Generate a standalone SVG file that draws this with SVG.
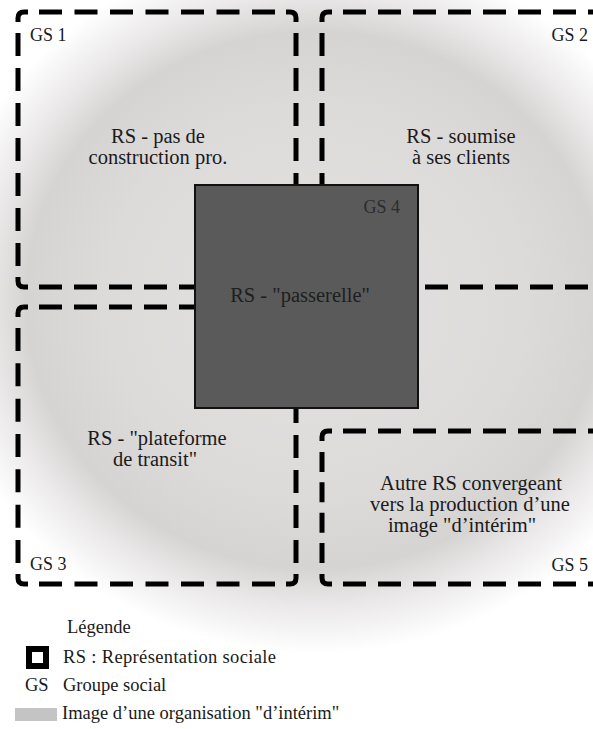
<svg xmlns="http://www.w3.org/2000/svg" width="593" height="729" viewBox="0 0 593 729">
<defs>
<radialGradient id="bg" gradientUnits="userSpaceOnUse" cx="315" cy="300" r="380" gradientTransform="translate(315 300) scale(1 0.93) translate(-315 -300)">
<stop offset="0" stop-color="#e3e1e1"/>
<stop offset="0.55" stop-color="#dddada"/>
<stop offset="0.76" stop-color="#d6d3d3"/>
<stop offset="0.87" stop-color="#ebe9e9"/>
<stop offset="1" stop-color="#ffffff"/>
</radialGradient>
<style>
.d{fill:none;stroke:#000;stroke-width:5;stroke-dasharray:23 12}
.c{fill:none;stroke:#000;stroke-width:5}
.t{font-family:'Liberation Serif','DejaVu Serif','Noto Serif',serif;font-size:20.5px;fill:#1a1a1a;text-anchor:middle}
.g{font-family:'Liberation Serif','DejaVu Serif','Noto Serif',serif;font-size:18px;fill:#1a1a1a}
.l{font-family:'Liberation Serif','DejaVu Serif','Noto Serif',serif;font-size:18.5px;fill:#1a1a1a}
</style>
</defs>
<rect width="593" height="729" fill="#ffffff"/>
<rect width="593" height="729" fill="url(#bg)"/>

<g id="connectors">
<path class="c" d="M18,22 V18 Q18,12 24,12 H28"/>
<path class="d" style="stroke-dasharray:23 12.5" d="M39,12 H275"/>
<path class="c" d="M286,12 H290 Q296,12 296,18 V22"/>
<path class="d" d="M296,33 V185"/>
<path class="d" d="M18,33 V266"/>
<path class="c" d="M18,277 V281 Q18,287 24,287 H28"/>
<path class="d" d="M39,287 H196"/>
<path class="c" d="M322,22 V18 Q322,12 328,12 H332"/>
<path class="d" d="M343,12 H600"/>
<path class="d" d="M322,33 V185"/>
<path class="d" d="M425,287 H600"/>
<path class="c" d="M18,317 V313 Q18,307 24,307 H28"/>
<path class="d" d="M39,307 H196"/>
<path class="d" style="stroke-dasharray:23 12.33" d="M18,328 V563"/>
<path class="c" d="M18,574 V578 Q18,584 24,584 H28"/>
<path class="d" style="stroke-dasharray:23 12.5" d="M39,584 H275"/>
<path class="c" d="M286,584 H290 Q296,584 296,578 V574"/>
<path class="d" d="M296,563 V408"/>
<path class="c" d="M322,441 V437 Q322,431 328,431 H332"/>
<path class="d" d="M343,431 H600"/>
<path class="d" style="stroke-dasharray:20 10.33" d="M322,452 V563"/>
<path class="c" d="M322,574 V578 Q322,584 328,584 H332"/>
<path class="d" d="M343,584 H600"/>
</g>

<g id="gs1">
<text class="g" x="30" y="41">GS 1</text>
<text class="t" x="158" y="143">RS - pas de</text>
<text class="t" x="158" y="164">construction pro.</text>
</g>
<g id="gs2">
<text class="g" x="588" y="41" text-anchor="end">GS 2</text>
<text class="t" x="461" y="143">RS - soumise</text>
<text class="t" x="461" y="164">à ses clients</text>
</g>
<g id="gs3">
<text class="g" x="30" y="570">GS 3</text>
<text class="t" x="157" y="445">RS - "plateforme</text>
<text class="t" x="155" y="466">de transit"</text>
</g>
<g id="gs5">
<text class="g" x="588" y="571" text-anchor="end">GS 5</text>
<text class="t" x="471" y="490">Autre RS convergeant</text>
<text class="t" x="470" y="511">vers la production d’une</text>
<text class="t" x="462" y="532">image "d’intérim"</text>
</g>
<g id="gs4">
<rect x="195" y="185" width="223" height="223" fill="#5a5a5a" stroke="#111" stroke-width="2"/>
<text class="g" x="400" y="213" text-anchor="end" style="fill:#2c2c2c">GS 4</text>
<text class="t" x="300" y="302" style="fill:#1e1e1e">RS - "passerelle"</text>
</g>

<g id="legend">
<text class="l" x="67" y="633">Légende</text>
<rect x="29" y="649" width="17" height="17" fill="#fff" stroke="#000" stroke-width="6"/>
<text class="l" x="63" y="663" textLength="213" lengthAdjust="spacing">RS : Représentation sociale</text>
<text class="l" x="25" y="691">GS</text>
<text class="l" x="63" y="691">Groupe social</text>
<rect x="15" y="708" width="42" height="13" fill="#c4c4c4"/>
<text class="l" x="62" y="719">Image d’une organisation "d’intérim"</text>
</g>
</svg>
